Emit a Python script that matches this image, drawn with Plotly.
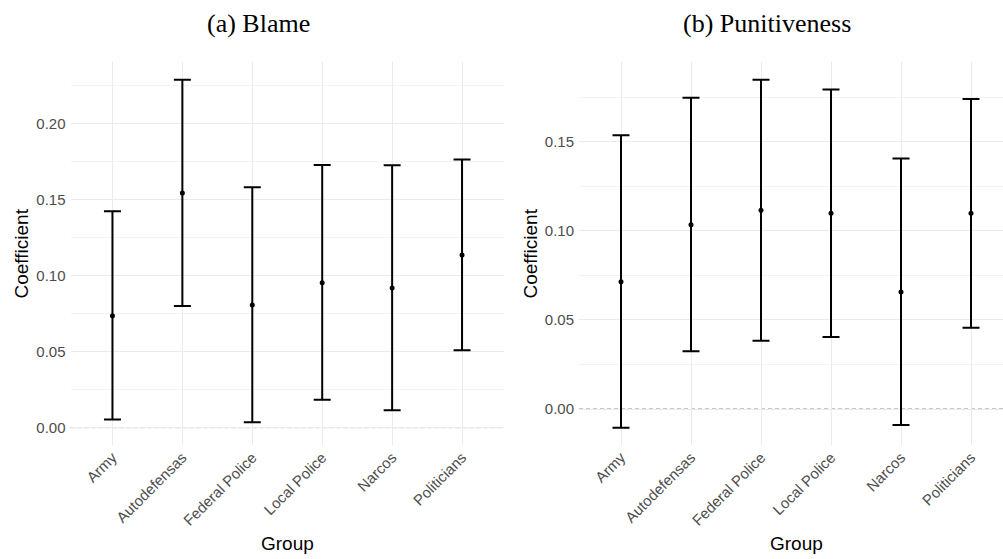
import plotly.graph_objects as go

groups = ["Army", "Autodefensas", "Federal Police", "Local Police", "Narcos", "Politicians"]

blame_est = [0.0736, 0.1542, 0.0806, 0.0953, 0.0918, 0.1135]
blame_low = [0.0053, 0.0800, 0.0035, 0.0184, 0.0114, 0.0509]
blame_high = [0.1422, 0.2287, 0.1580, 0.1726, 0.1724, 0.1763]

pun_est = [0.0714, 0.1034, 0.1115, 0.1098, 0.0657, 0.1098]
pun_low = [-0.0105, 0.0324, 0.0383, 0.0404, -0.0090, 0.0456]
pun_high = [0.1536, 0.1747, 0.1848, 0.1792, 0.1405, 0.1740]

W, H = 1003, 559
fig = go.Figure()

def add_panel(est, low, high, xa, ya):
    fig.add_trace(go.Scatter(
        x=groups, y=est, mode="markers",
        marker=dict(color="black", size=5),
        error_y=dict(type="data", symmetric=False,
                     array=[h - e for h, e in zip(high, est)],
                     arrayminus=[e - l for e, l in zip(est, low)],
                     color="black", thickness=2, width=8.5),
        xaxis=xa, yaxis=ya, showlegend=False, hoverinfo="skip"))

add_panel(blame_est, blame_low, blame_high, "x", "y")
add_panel(pun_est, pun_low, pun_high, "x2", "y2")

ydom = [1 - 445 / H, 1 - 62 / H]
tickfont = dict(family="Liberation Sans, Arial, sans-serif", size=15, color="#4D4D4D")
grid = "#EBEBEB"

xcommon = dict(type="category", showgrid=True, gridcolor=grid, gridwidth=1,
               tickangle=-45, tickfont=tickfont, ticks="", showline=False,
               zeroline=False, automargin=False)
ycommon = dict(showgrid=True, gridcolor=grid, gridwidth=1, dtick=0.05, tick0=0,
               tickformat=".2f", tickfont=tickfont, ticks="", zeroline=False,
               showline=False, automargin=False, ticklabelstandoff=4,
               minor=dict(dtick=0.025, tick0=0, showgrid=True, gridcolor="#F0F0F0", gridwidth=0.8))

fig.update_layout(
    width=W, height=H,
    margin=dict(l=0, r=0, t=0, b=0, autoexpand=False),
    paper_bgcolor="white", plot_bgcolor="white",
    xaxis=dict(xcommon, domain=[70.5 / W, 504 / W], range=[-0.6, 5.6], anchor="y"),
    yaxis=dict(ycommon, domain=ydom, range=[-0.0114, 0.2403], anchor="x"),
    xaxis2=dict(xcommon, domain=[579 / W, 1.0], range=[-0.6, 5.457], anchor="y2"),
    yaxis2=dict(ycommon, domain=ydom, range=[-0.0202, 0.1947], anchor="x2"),
)

for xr, yr in [("x", "y"), ("x2", "y2")]:
    fig.add_shape(type="line", xref=f"{xr} domain", yref=yr, x0=0, x1=1, y0=0, y1=0,
                  line=dict(color="#8E8E8E", width=1, dash="4px,3px"), layer="below")

titlefont = dict(family="Liberation Serif, serif", size=26, color="black")
axfont = dict(family="Liberation Sans, Arial, sans-serif", size=19, color="black")

anns = [
    dict(text="(a) Blame", x=258 / W, y=1 - 23 / H, font=titlefont),
    dict(text="(b) Punitiveness", x=767 / W, y=1 - 23 / H, font=titlefont),
    dict(text="Coefficient", x=21 / W, y=1 - 253.5 / H, font=axfont, textangle=-90),
    dict(text="Coefficient", x=530 / W, y=1 - 253.5 / H, font=axfont, textangle=-90),
    dict(text="Group", x=287 / W, y=1 - 543 / H, font=axfont),
    dict(text="Group", x=796 / W, y=1 - 543 / H, font=axfont),
]
for a in anns:
    fig.add_annotation(xref="paper", yref="paper", showarrow=False,
                       xanchor="center", yanchor="middle", **a)

fig.write_html("out.html", config={"displayModeBar": False, "staticPlot": True},
               post_script="document.body.style.margin='0';document.body.style.overflow='hidden';")
